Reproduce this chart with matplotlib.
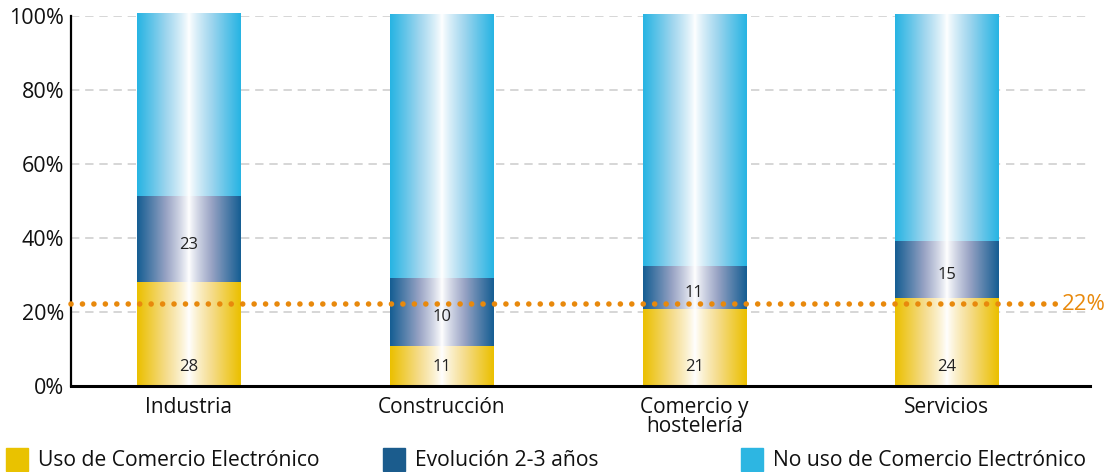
import numpy as np
import matplotlib
matplotlib.use('Agg')
from matplotlib import pyplot as plt
from matplotlib.colors import LinearSegmentedColormap
from matplotlib.patches import Rectangle

plt.rcParams['font.family'] = ['Open Sans', 'DejaVu Sans']

categories = ['Industria', 'Construcción', 'Comercio y\nhostelería', 'Servicios']
uso = [28, 10.7, 20.6, 23.7]
evolucion = [23.2, 18.5, 11.7, 15.4]
uso_labels = ['28', '11', '21', '24']
evolucion_labels = ['23', '10', '11', '15']
no_uso = [100.5 - a - b for a, b in zip(uso, evolucion)]
media = 22

series_names = ['Uso de Comercio Electrónico', 'Evolución 2-3 años', 'No uso de Comercio Electrónico']
legend_colors = ['#E9C200', '#1B5C8D', '#2DB6E2']

# centre -> middle -> edge stops for the cylinder look
grad_stops = [
    ['#FFFFFF', '#F5DC8C', '#EBC000'],
    ['#FFFFFF', '#98A3C4', '#165E93'],
    ['#FFFFFF', '#9ED5EE', '#27B4E3'],
]

W, H = 1108, 472
fig = plt.figure(figsize=(W / 100, H / 100), dpi=100)
ax = fig.add_axes([71 / W, (H - 385.5) / H, (1090 - 71) / W, (385.5 - 16) / H])

x = np.arange(len(categories))
width = 0.41
u = np.linspace(-1, 1, 200)
t = np.abs(u) ** 0.85

bottoms = np.zeros(len(categories))
for vals, stops in zip([uso, evolucion, no_uso], grad_stops):
    cmap = LinearSegmentedColormap.from_list('g', stops)
    bars = ax.bar(x, vals, width, bottom=bottoms, color='none', zorder=2)
    img = cmap(t)[np.newaxis, :, :]
    for b in bars:
        x0, y0 = b.get_x(), b.get_y()
        ax.imshow(img, extent=(x0, x0 + b.get_width(), y0, y0 + b.get_height()),
                  aspect='auto', zorder=2, interpolation='bilinear', clip_on=False)
    bottoms = bottoms + np.array(vals)

for i in range(len(categories)):
    ax.text(x[i], 5, uso_labels[i], ha='center', va='center', fontsize=12, color='#222222', zorder=4)
    ax.text(x[i], uso[i] + evolucion[i] / 2 - 1.5, evolucion_labels[i], ha='center', va='center',
            fontsize=12, color='#222222', zorder=4)

xmin, xmax = -0.467, 3.566
ax.plot([xmin, 3.46], [media, media], color='#E8890C', linewidth=4,
        linestyle=(0, (0.01, 2.05)), dash_capstyle='round', zorder=3, clip_on=False)
ax.text(3.455, media, f'{media}%', color='#E8890C', fontsize=16, va='center', ha='left',
        clip_on=False, zorder=4)

ax.set_xlim(xmin, xmax)
ax.set_ylim(0, 100)
ax.set_yticks([0, 20, 40, 60, 80, 100])
ax.set_yticklabels([f'{v}%' for v in [0, 20, 40, 60, 80, 100]], fontsize=15.5, color='#111111')
ax.set_xticks(x)
ax.set_xticklabels(categories, fontsize=15, color='#111111', linespacing=0.9)
ax.tick_params(axis='x', length=0, pad=8)
ax.tick_params(axis='y', length=0, pad=5)
ax.yaxis.grid(True, color='#CFCFCF', linestyle=(0, (5, 3.5)), linewidth=1.2, zorder=0)
ax.set_axisbelow(True)
for s in ['top', 'right']:
    ax.spines[s].set_visible(False)
ax.spines['left'].set_linewidth(1.6)
ax.spines['bottom'].set_linewidth(2.2)

# legend along the bottom
leg_x = [6, 383, 741]
for lx, name, col in zip(leg_x, series_names, legend_colors):
    fig.patches.append(Rectangle((lx / W, (H - 471) / H), 22 / W, 23 / H,
                                 transform=fig.transFigure, color=col))
    fig.text((lx + 32) / W, (H - 461) / H, name, fontsize=15.2, va='center', ha='left', color='#111111')

fig.savefig('out.png', dpi=100)
